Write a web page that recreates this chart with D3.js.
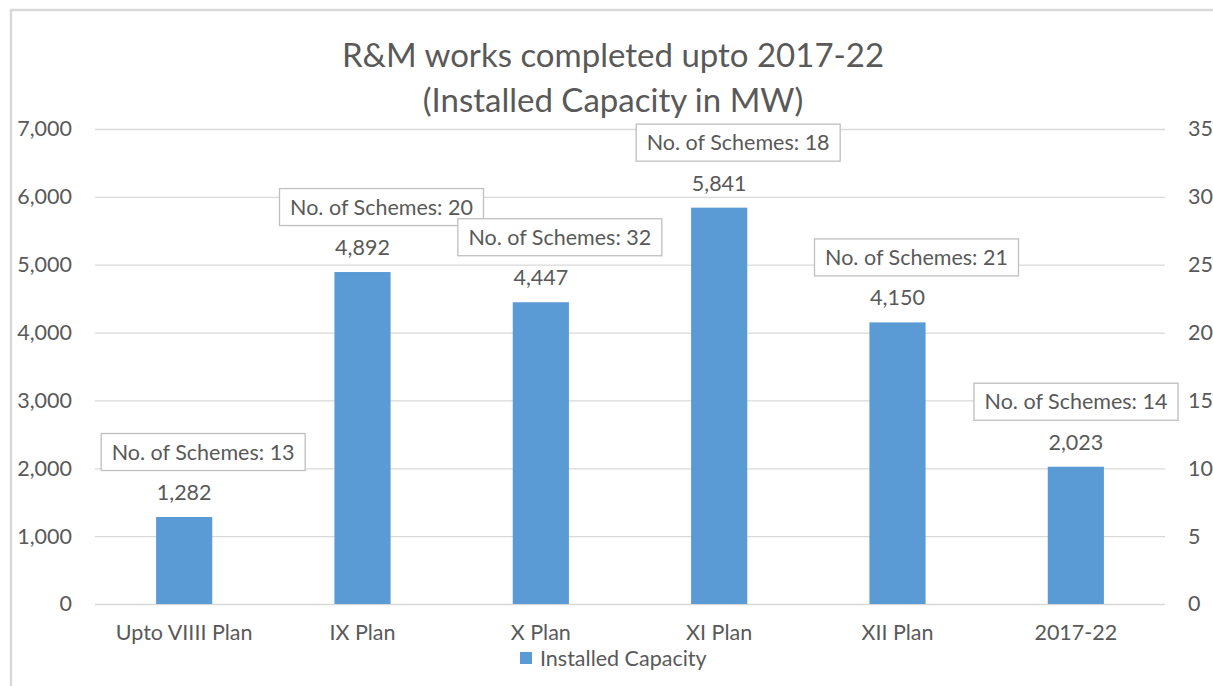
<!DOCTYPE html>
<html>
<head>
<meta charset="utf-8">
<script src="https://cdn.jsdelivr.net/npm/d3@7"></script>
<style>
  body { margin: 0; background: #fff; }
  svg text { font-family: Lato, "Open Sans", sans-serif; fill: #595959; }
</style>
</head>
<body>
<svg id="chart" width="1213" height="686"></svg>
<script>
// data
const plans = ["Upto VIIII Plan", "IX Plan", "X Plan", "XI Plan", "XII Plan", "2017-22"];
const capacity = [1282, 4892, 4447, 5841, 4150, 2023]; // MW
const schemes = [13, 20, 32, 18, 21, 14];
const leftTicks = [0, 1000, 2000, 3000, 4000, 5000, 6000, 7000];
const rightTicks = [0, 5, 10, 15, 20, 25, 30, 35];

const svg = d3.select("#chart");
const plotLeft = 95, plotRight = 1165, plotTop = 129, plotBottom = 604;
const fs = 21.5; // general font size

// chart frame
svg.append("rect")
  .attr("x", 11).attr("y", 10)
  .attr("width", 1240).attr("height", 700)
  .attr("fill", "#fff").attr("stroke", "#d9d9d9").attr("stroke-width", 2.5);

const x = d3.scaleBand().domain(plans).range([plotLeft, plotRight]);
const y = d3.scaleLinear().domain([0, 7000]).range([plotBottom, plotTop]);
const y2 = d3.scaleLinear().domain([0, 35]).range([plotBottom, plotTop]);

// title
svg.append("text").attr("x", 613).attr("y", 67)
  .attr("text-anchor", "middle").attr("font-size", 33)
  .text("R&M works completed upto 2017-22");
svg.append("text").attr("x", 613).attr("y", 112)
  .attr("text-anchor", "middle").attr("font-size", 33)
  .text("(Installed Capacity in MW)");

// left axis + gridlines
const gy = svg.append("g").attr("transform", `translate(${plotLeft},0)`)
  .call(d3.axisLeft(y).tickValues(leftTicks).tickSize(-(plotRight - plotLeft))
    .tickPadding(23).tickFormat(d3.format(",")));
gy.select(".domain").remove();
gy.selectAll("line").attr("stroke", "#d9d9d9").attr("stroke-width", 1.3);
gy.selectAll("text").attr("font-size", fs).style("fill", "#595959");

// right axis
const gy2 = svg.append("g").attr("transform", `translate(${plotRight},0)`)
  .call(d3.axisRight(y2).tickValues(rightTicks).tickSize(0).tickPadding(23));
gy2.select(".domain").remove();
gy2.selectAll("text").attr("font-size", fs).style("fill", "#595959");

// category axis
const gx = svg.append("g").attr("transform", `translate(0,${plotBottom})`)
  .call(d3.axisBottom(x).tickSize(0).tickPadding(21));
gx.select(".domain").remove();
gx.selectAll("text").attr("font-size", fs).style("fill", "#595959");

// bars
const barW = x.bandwidth() * 0.315;
svg.append("g").selectAll("rect").data(capacity).join("rect")
  .attr("x", (d, i) => x(plans[i]) + x.bandwidth() / 2 - barW / 2)
  .attr("y", d => y(d))
  .attr("width", barW)
  .attr("height", d => y(0) - y(d))
  .attr("fill", "#5b9bd5");

// value labels
svg.append("g").selectAll("text").data(capacity).join("text")
  .attr("x", (d, i) => x(plans[i]) + x.bandwidth() / 2)
  .attr("y", d => y(d) - 17)
  .attr("text-anchor", "middle").attr("font-size", fs)
  .text(d3.format(","));

// scheme count callouts
const boxW = 204, boxH = 37;
const callouts = svg.append("g").selectAll("g").data(schemes).join("g")
  .attr("transform", (d, i) => {
    let cx = x(plans[i]) + x.bandwidth() / 2 + 19;
    cx = Math.min(cx, 1178 - boxW / 2);
    const cy = y(capacity[i]) - 65;
    return `translate(${cx},${cy})`;
  });
callouts.append("rect")
  .attr("x", -boxW / 2).attr("y", -boxH / 2)
  .attr("width", boxW).attr("height", boxH)
  .attr("fill", "#fff").attr("stroke", "#bfbfbf").attr("stroke-width", 1.3);
callouts.append("text")
  .attr("text-anchor", "middle").attr("dy", "0.35em").attr("font-size", fs)
  .text(d => "No. of Schemes: " + d);

// legend
const lg = svg.append("g").attr("transform", "translate(520,652)");
lg.append("rect").attr("width", 12).attr("height", 12).attr("fill", "#5b9bd5");
lg.append("text").attr("x", 20).attr("y", 6).attr("dy", "0.35em")
  .attr("font-size", fs).text("Installed Capacity");
</script>
</body>
</html>
